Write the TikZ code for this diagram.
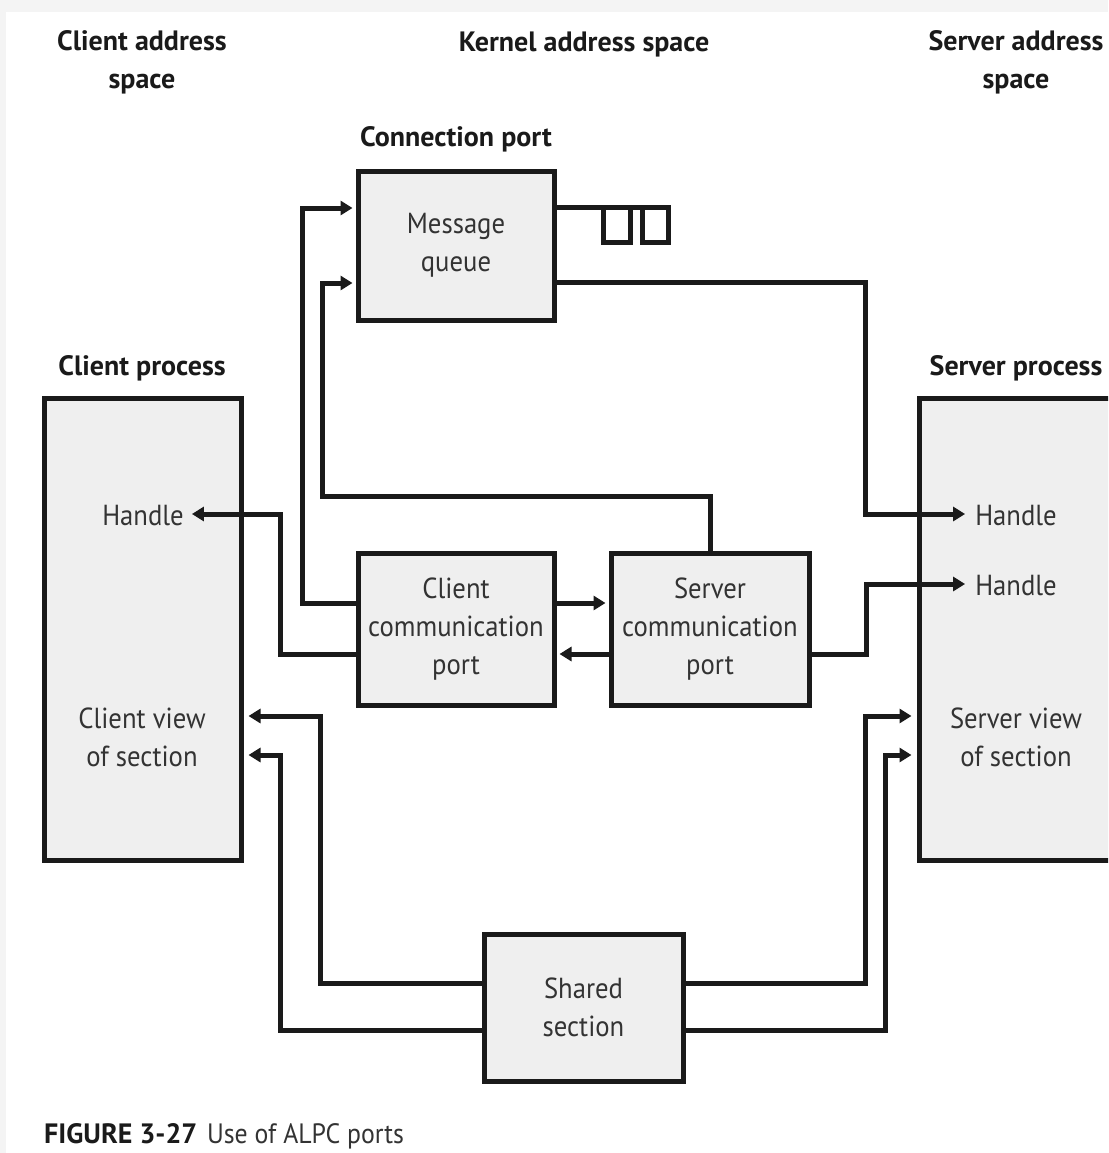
\documentclass[tikz,border=0pt]{standalone}
\usepackage{fontspec}
\setmainfont{PT Sans}
\newfontfamily\lblfont[FakeStretch=0.92]{PT Sans}
\usetikzlibrary{arrows.meta}
\definecolor{boxfill}{HTML}{EFEFEF}
\definecolor{ink}{HTML}{1A1A1A}
\definecolor{txt}{HTML}{333333}
\definecolor{pagegrey}{HTML}{F4F4F4}
\begin{document}
\begin{tikzpicture}[x=1pt,y=-1pt,
  box/.style={draw=ink, fill=boxfill, line width=5pt, inner sep=0pt},
  lbl/.style={font=\lblfont\fontsize{29}{38}\selectfont, text=txt, align=center, inner sep=0pt},
  head/.style={font=\fontsize{28}{38}\selectfont\bfseries, text=ink, align=center, inner sep=0pt},
  wire/.style={draw=ink, line width=5pt},
  arr/.style={wire, -{Triangle[length=12pt,width=14pt]}, shorten >=3pt},
]
\path[use as bounding box, fill=pagegrey] (0,0) rectangle (1108,1153);
\fill[white] (6,12) rectangle (1108,1153);
\clip (0,0) rectangle (1108,1153);

% headings
\node[head] (hcl) at (142,62) {Client address\\space};
\node[head] (hk) at (584,45) {Kernel address space};
\node[head] (hsv) at (1016,62) {Server address\\space};
\node[head] (hconn) at (456,139) {Connection port};
\node[head] (hcpr) at (142,368) {Client process};
\node[head] (hspr) at (1016,368) {Server process};

% boxes
\node[box, minimum width=197pt, minimum height=462pt] (cp) at (142.5,629) {};
\node[box, minimum width=230pt, minimum height=462pt] (sp) at (1034,629) {};
\node[box, lbl, minimum width=196pt, minimum height=149pt] (mq) at (456,245.5) {Message\\queue};
\node[box, lbl, minimum width=196pt, minimum height=152pt] (ccp) at (456,629) {Client\\communication\\port};
\node[box, lbl, minimum width=198pt, minimum height=152pt] (scp) at (710,629) {Server\\communication\\port};
\node[box, lbl, minimum width=199pt, minimum height=147pt] (ss) at (583.5,1007.5) {Shared\\section};

% texts inside process boxes
\node[lbl] (hc) at (143,516) {Handle};
\node[lbl] (cv) at (142,737) {Client view\\of section};
\node[lbl] (hs1) at (1016,516) {Handle};
\node[lbl] (hs2) at (1016,586) {Handle};
\node[lbl] (sv) at (1016,737) {Server view\\of section};

% queue
\draw[wire] (mq.east |- 0,207) -- (668,207);
\draw[wire] (603,207) rectangle (630,242);
\draw[wire] (642,207) rectangle (668,242);

% connectors
\draw[arr] (ccp.west |- 0,603) -| (302,208) -- (mq.west |- 0,208);
\draw[arr] (scp.north) |- (322,496) |- (mq.west |- 0,283);
\draw[arr, shorten >=10pt] (mq.east |- 0,282) -| (865,514) -- (hs1.west |- 0,514);
\draw[arr] (ccp.east |- 0,603) -- (scp.west |- 0,603);
\draw[arr] (scp.west |- 0,654) -- (ccp.east |- 0,654);
\draw[arr, shorten >=8pt] (ccp.west |- 0,654) -| (280,514) -- (hc.east |- 0,514);
\draw[arr, shorten >=10pt] (scp.east |- 0,654) -| (866,584) -- (hs2.west |- 0,584);
\draw[arr, shorten >=5pt] (ss.west |- 0,983) -| (320,716) -- (cp.east |- 0,716);
\draw[arr, shorten >=5pt] (ss.west |- 0,1030) -| (280,755) -- (cp.east |- 0,755);
\draw[arr, shorten >=5pt] (ss.east |- 0,983) -| (865,716) -- (sp.west |- 0,716);
\draw[arr, shorten >=5pt] (ss.east |- 0,1030) -| (885,755) -- (sp.west |- 0,755);

% caption
\node[anchor=base west, inner sep=0pt, font=\fontsize{28}{34}\selectfont, text=txt] (cap) at (44,1143) {\textcolor{ink}{\bfseries FIGURE 3-27}\hspace{0.35em}{\lblfont Use of ALPC ports}};
\end{tikzpicture}
\end{document}
